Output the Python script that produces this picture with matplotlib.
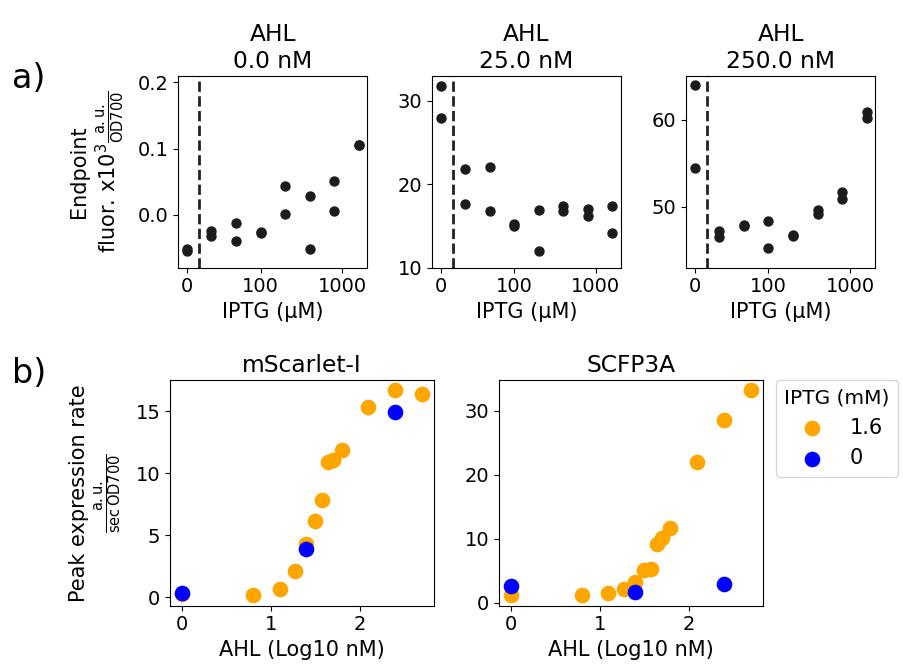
import numpy as np
import matplotlib
matplotlib.use("Agg")
import matplotlib.pyplot as plt

plt.rcParams['font.family'] = 'DejaVu Sans'
plt.rcParams['font.size'] = 15
plt.rcParams['xtick.labelsize'] = 14
plt.rcParams['ytick.labelsize'] = 14
plt.rcParams['axes.titlesize'] = 16.8
plt.rcParams['axes.labelsize'] = 15

# endpoint fluorescence, two replicates per IPTG level
iptg_uM = [0, 25, 50, 100, 200, 400, 800, 1600]
ahl_titles = [0.0, 25.0, 250.0]
endpoint_rep1 = [
    [-0.052, -0.024, -0.012, -0.025, 0.044, 0.028, 0.051, 0.106],
    [31.76, 21.8, 22.1, 15.2, 16.96, 17.44, 17.04, 17.4],
    [63.97, 47.25, 47.9, 48.4, 46.8, 49.7, 51.75, 60.9],
]
endpoint_rep2 = [
    [-0.055, -0.032, -0.039, -0.027, 0.002, -0.052, 0.0065, 0.105],
    [27.96, 17.7, 16.8, 15.0, 12.0, 16.76, 16.16, 14.16],
    [54.5, 46.6, 47.8, 45.3, 46.7, 49.2, 50.95, 60.2],
]
endpoint_ylims = [(-0.0795, 0.209), (10, 32.96), (43.05, 64.96)]
endpoint_yticks = [[0.0, 0.1, 0.2], [10, 20, 30], [50, 60]]
endpoint_yticklabels = [['0.0', '0.1', '0.2'], ['10', '20', '30'], ['50', '60']]

# peak expression rate vs AHL
ahl_nM = [0, 6.25, 12.5, 18.75, 25, 31.25, 37.5, 43.75, 50, 62.5, 125, 250, 500]
scarlet_iptg16 = [0.25, 0.16, 0.65, 2.10, 4.27, 6.13, 7.85, 10.89, 11.08, 11.88, 15.32, 16.67, 16.37]
cfp_iptg16 = [1.15, 1.15, 1.46, 2.08, 3.18, 5.05, 5.31, 9.22, 10.05, 11.67, 22.03, 28.6, 33.18]
ahl_nM_iptg0 = [0, 25, 250]
scarlet_iptg0 = [0.32, 3.90, 14.95]
cfp_iptg0 = [2.60, 1.67, 2.86]


def iptg_pos(c):
    # log2 spacing, 0 sits one step below the lowest dose
    c = np.asarray(c, dtype=float)
    return np.log2(np.maximum(c, 12.5) / 12.5)


def ahl_pos(c):
    c = np.asarray(c, dtype=float)
    return np.log10(np.maximum(c, 1.0))


W, H = 904, 671
fig = plt.figure(figsize=(W / 100, H / 100), dpi=100)


def px_axes(left, top, right, bottom):
    return fig.add_axes([left / W, 1 - bottom / H, (right - left) / W, (bottom - top) / H])


top_lefts = [(178.3, 367.3), (432.0, 620.7), (686.0, 875.3)]
dot_col = '#1c1c1c'
for i, (l, r) in enumerate(top_lefts):
    ax = px_axes(l, 76.3, r, 267.7)
    x = iptg_pos(iptg_uM)
    ax.scatter(x, endpoint_rep1[i], s=42, color=dot_col, zorder=3)
    ax.scatter(x, endpoint_rep2[i], s=42, color=dot_col, zorder=3)
    ax.axvline((x[0] + x[1]) / 2, color='#222222', ls='--', lw=2)
    ax.set_xticks(iptg_pos([0, 100, 1000]))
    ax.set_xticklabels(['0', '100', '1000'])
    ax.set_ylim(*endpoint_ylims[i])
    ax.set_yticks(endpoint_yticks[i])
    ax.set_yticklabels(endpoint_yticklabels[i])
    ax.set_xlabel('IPTG (µM)')
    ax.set_title(f'AHL\n{ahl_titles[i]} nM')
    if i == 0:
        ax.set_ylabel('Endpoint\nfluor. x10$^3\\frac{\\rm a.u.}{\\rm OD700}$', labelpad=8)

bottom_axes = [px_axes(170.0, 380.0, 434.0, 605.7), px_axes(499.0, 380.0, 762.7, 605.7)]
series16 = [scarlet_iptg16, cfp_iptg16]
series0 = [scarlet_iptg0, cfp_iptg0]
names = ['mScarlet-I', 'SCFP3A']
for ax, y16, y0, name in zip(bottom_axes, series16, series0, names):
    ax.scatter(ahl_pos(ahl_nM), y16, s=105, color='orange', label='1.6', zorder=3)
    ax.scatter(ahl_pos(ahl_nM_iptg0), y0, s=105, color='blue', label='0', zorder=3)
    ax.set_title(name)
    ax.set_xlabel('AHL (Log10 nM)')
    ax.set_xticks([0, 1, 2])

bottom_axes[0].set_ylabel('Peak expression rate\n$\\frac{\\rm a.u.}{\\rm sec\\,OD700}$', labelpad=8)
bottom_axes[0].set_yticks([0, 5, 10, 15])
bottom_axes[1].set_yticks([0, 10, 20, 30])
bottom_axes[1].legend(title='IPTG (mM)', loc='upper left', bbox_to_anchor=(1.05, 1.0),
                      borderaxespad=0, fontsize=15, title_fontsize=14.5)

fig.text(12 / W, 1 - 79 / H, 'a)', fontsize=24, va='center', ha='left')
fig.text(12 / W, 1 - 374 / H, 'b)', fontsize=24, va='center', ha='left')

fig.savefig('out.png', dpi=100)
